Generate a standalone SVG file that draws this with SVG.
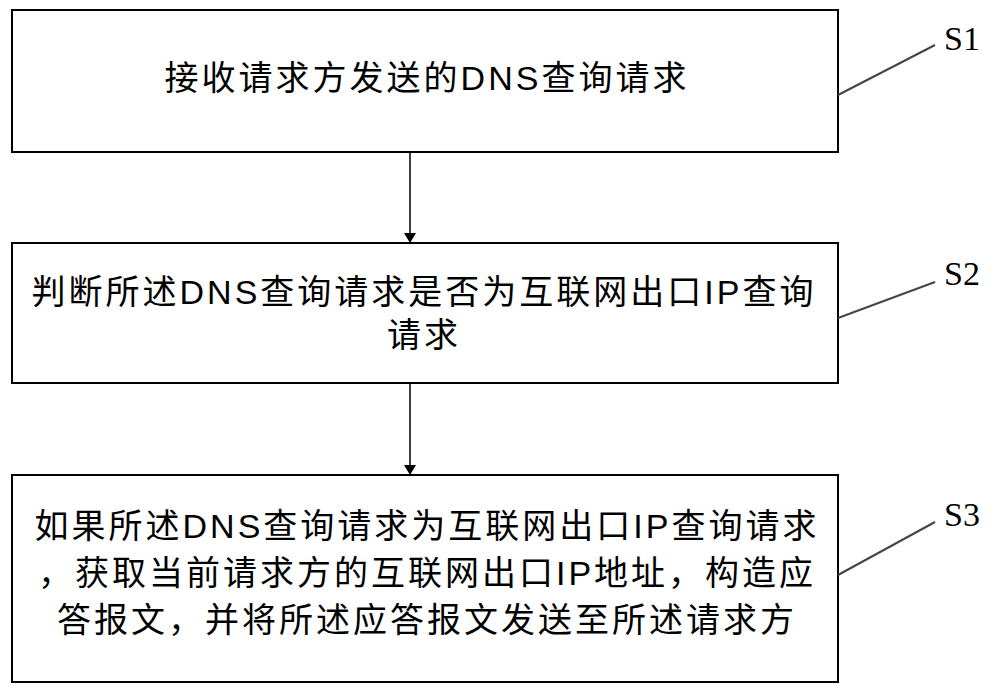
<svg xmlns="http://www.w3.org/2000/svg" width="1000" height="692" viewBox="0 0 1000 692">
<defs>
<marker id="ah" markerWidth="10" markerHeight="12" refX="10" refY="6" orient="auto" markerUnits="userSpaceOnUse"><path d="M0,0 L10,6 L0,12 z" fill="#000"/></marker>
<style>
.box{fill:#fff;stroke:#000;stroke-width:2}
.t{font-family:"Liberation Sans","Noto Sans CJK SC",sans-serif;font-size:34px;letter-spacing:3px;fill:#000}
.s{font-family:"Liberation Serif",serif;font-size:34px;fill:#000}
.ln{stroke:#000;stroke-width:1.5;fill:none}
.ld{stroke:#444;stroke-width:2;fill:none}
</style>
</defs>
<rect width="1000" height="692" fill="#fff"/>
<g id="n1"><rect class="box" x="12" y="10" width="826" height="142"/><text class="t" x="427" y="90" text-anchor="middle">接收请求方发送的DNS查询请求</text></g>
<g id="n2"><rect class="box" x="12" y="243" width="826" height="140"/><text class="t" x="424" y="304" text-anchor="middle">判断所述DNS查询请求是否为互联网出口IP查询</text><text class="t" x="424" y="347" text-anchor="middle">请求</text></g>
<g id="n3"><rect class="box" x="12" y="475" width="826" height="207"/><text class="t" x="427" y="538" text-anchor="middle">如果所述DNS查询请求为互联网出口IP查询请求</text><text class="t" x="427" y="585" text-anchor="middle">，获取当前请求方的互联网出口IP地址，构造应</text><text class="t" x="427" y="632" text-anchor="middle">答报文，并将所述应答报文发送至所述请求方</text></g>
<g id="connectors">
<line class="ln" x1="410" y1="152" x2="410" y2="243" marker-end="url(#ah)"/>
<line class="ln" x1="410" y1="383" x2="410" y2="475" marker-end="url(#ah)"/>
<line class="ld" x1="838" y1="95" x2="935" y2="45"/>
<line class="ld" x1="838" y1="318" x2="935" y2="282"/>
<line class="ld" x1="838" y1="575" x2="935" y2="522"/>
</g>
<g id="labels"><text class="s" x="944" y="50">S1</text><text class="s" x="944" y="285">S2</text><text class="s" x="944" y="526">S3</text></g>
</svg>
